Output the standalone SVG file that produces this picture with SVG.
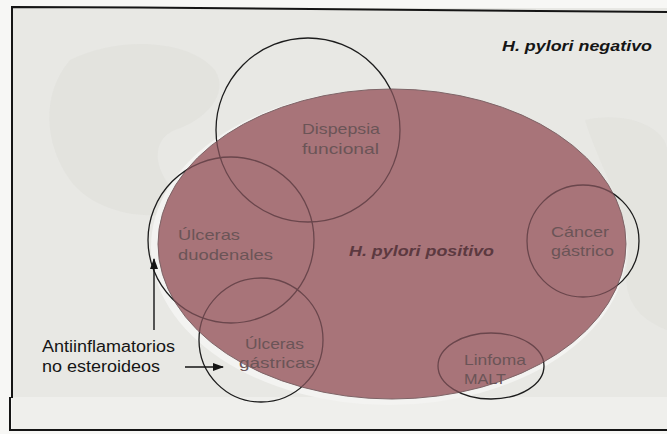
<svg xmlns="http://www.w3.org/2000/svg" width="667" height="434" viewBox="0 0 667 434">
  <style>
    .frame { fill: none; stroke: #151515; stroke-width: 2; }
    .ring { fill: none; stroke: #1c1c1c; stroke-width: 1.3; }
    .ring-in { fill: none; stroke: #6a464c; stroke-width: 1.3; }
    .lbl { font-family: "Liberation Sans", Arial, Helvetica, sans-serif; font-size: 15px; fill: #6b5457; }
    .title { font-family: "Liberation Sans", Arial, Helvetica, sans-serif; font-size: 15px; font-weight: bold; font-style: italic; }
    .note { font-family: "Liberation Sans", Arial, Helvetica, sans-serif; font-size: 16px; fill: #151515; }
    .wire { stroke: #151515; stroke-width: 1.4; fill: none; marker-end: url(#arrow); }
  </style>
  <defs>
    <!-- the large set, shared by the clip and the mask -->
    <clipPath id="inside">
      <ellipse cx="392" cy="244" rx="234" ry="155"/>
    </clipPath>
    <mask id="outside" maskUnits="userSpaceOnUse" x="0" y="0" width="667" height="434">
      <rect x="0" y="0" width="667" height="434" fill="#fff"/>
      <ellipse cx="392" cy="244" rx="234" ry="155" fill="#000"/>
    </mask>
    <marker id="arrow" markerUnits="userSpaceOnUse" markerWidth="11" markerHeight="8" refX="10" refY="4" orient="auto">
      <path d="M0,0 L11,4 L0,8 z" fill="#151515"/>
    </marker>
  </defs>

  <!-- paper -->
  <rect x="0" y="0" width="667" height="434" fill="#f7f7f5"/>
  <rect x="12" y="8" width="655" height="422" fill="#e8e8e4"/>
  <!-- faint printed shapes behind the figure -->
  <path d="M70,60 C120,35 190,40 215,70 C230,95 205,120 175,130 C150,140 150,175 190,205 C160,225 95,215 70,180 C45,145 40,95 70,60 z" fill="#d9d9d5" opacity="0.35"/>
  <path d="M585,120 C630,110 667,130 667,150 L667,330 C640,320 620,300 628,260 C634,220 600,170 585,120 z" fill="#d9d9d5" opacity="0.3"/>
  <rect x="12" y="397" width="655" height="33" fill="#efefec"/>

  <!-- frame -->
  <polyline class="frame" points="12,398 12,7 140,7.5 667,12"/>
  <polyline class="frame" points="10,397 10,430 667,430" stroke-width="1.6"/>

  <!-- H. pylori negativo (background set) -->
  <g id="hp-negativo">
    <text class="title" x="502" y="51" fill="#151515" textLength="150" lengthAdjust="spacingAndGlyphs">H. pylori negativo</text>
  </g>

  <!-- H. pylori positivo (large set) -->
  <g id="hp-positivo">
    <ellipse cx="389" cy="247" rx="238" ry="158" fill="#f3f3f1"/>
    <ellipse cx="392" cy="244" rx="234" ry="155" fill="#a87479" stroke="#7e6467" stroke-width="1"/>
    <text class="title" x="349" y="256" fill="#5c3940" textLength="145" lengthAdjust="spacingAndGlyphs">H. pylori positivo</text>
  </g>

  <g id="dispepsia">
    <circle class="ring" cx="308" cy="130" r="92" mask="url(#outside)"/>
    <circle class="ring-in" cx="308" cy="130" r="92" clip-path="url(#inside)"/>
    <text class="lbl" x="302" y="134" textLength="78" lengthAdjust="spacingAndGlyphs">Dispepsia</text>
    <text class="lbl" x="302" y="154" textLength="77" lengthAdjust="spacingAndGlyphs">funcional</text>
  </g>

  <g id="ulceras-duodenales">
    <circle class="ring" cx="231" cy="240" r="83" mask="url(#outside)"/>
    <circle class="ring-in" cx="231" cy="240" r="83" clip-path="url(#inside)"/>
    <text class="lbl" x="178" y="240" textLength="62" lengthAdjust="spacingAndGlyphs">Úlceras</text>
    <text class="lbl" x="178" y="260" textLength="95" lengthAdjust="spacingAndGlyphs">duodenales</text>
  </g>

  <g id="ulceras-gastricas">
    <circle class="ring" cx="261" cy="340" r="62" mask="url(#outside)"/>
    <circle class="ring-in" cx="261" cy="340" r="62" clip-path="url(#inside)"/>
    <text class="lbl" x="245" y="349" textLength="59" lengthAdjust="spacingAndGlyphs">Úlceras</text>
    <text class="lbl" x="239" y="368" textLength="76" lengthAdjust="spacingAndGlyphs">gástricas</text>
  </g>

  <g id="cancer-gastrico">
    <circle class="ring" cx="583" cy="241" r="56" mask="url(#outside)"/>
    <circle class="ring-in" cx="583" cy="241" r="56" clip-path="url(#inside)"/>
    <text class="lbl" x="551" y="237" textLength="58" lengthAdjust="spacingAndGlyphs">Cáncer</text>
    <text class="lbl" x="551" y="256" textLength="63" lengthAdjust="spacingAndGlyphs">gástrico</text>
  </g>

  <g id="linfoma-malt">
    <ellipse class="ring" cx="491" cy="366" rx="53" ry="33" mask="url(#outside)"/>
    <ellipse class="ring-in" cx="491" cy="366" rx="53" ry="33" clip-path="url(#inside)"/>
    <text class="lbl" x="464" y="365" textLength="62" lengthAdjust="spacingAndGlyphs">Linfoma</text>
    <text class="lbl" x="464" y="384" textLength="42" lengthAdjust="spacingAndGlyphs">MALT</text>
  </g>

  <g id="aine">
    <text class="note" x="42" y="352" textLength="133" lengthAdjust="spacingAndGlyphs">Antiinflamatorios</text>
    <text class="note" x="42" y="372" textLength="118" lengthAdjust="spacingAndGlyphs">no esteroideos</text>
  </g>

  <g id="connectors">
    <line class="wire" x1="154" y1="330" x2="154" y2="259"/>
    <line class="wire" x1="185" y1="367" x2="223" y2="367"/>
  </g>
</svg>
